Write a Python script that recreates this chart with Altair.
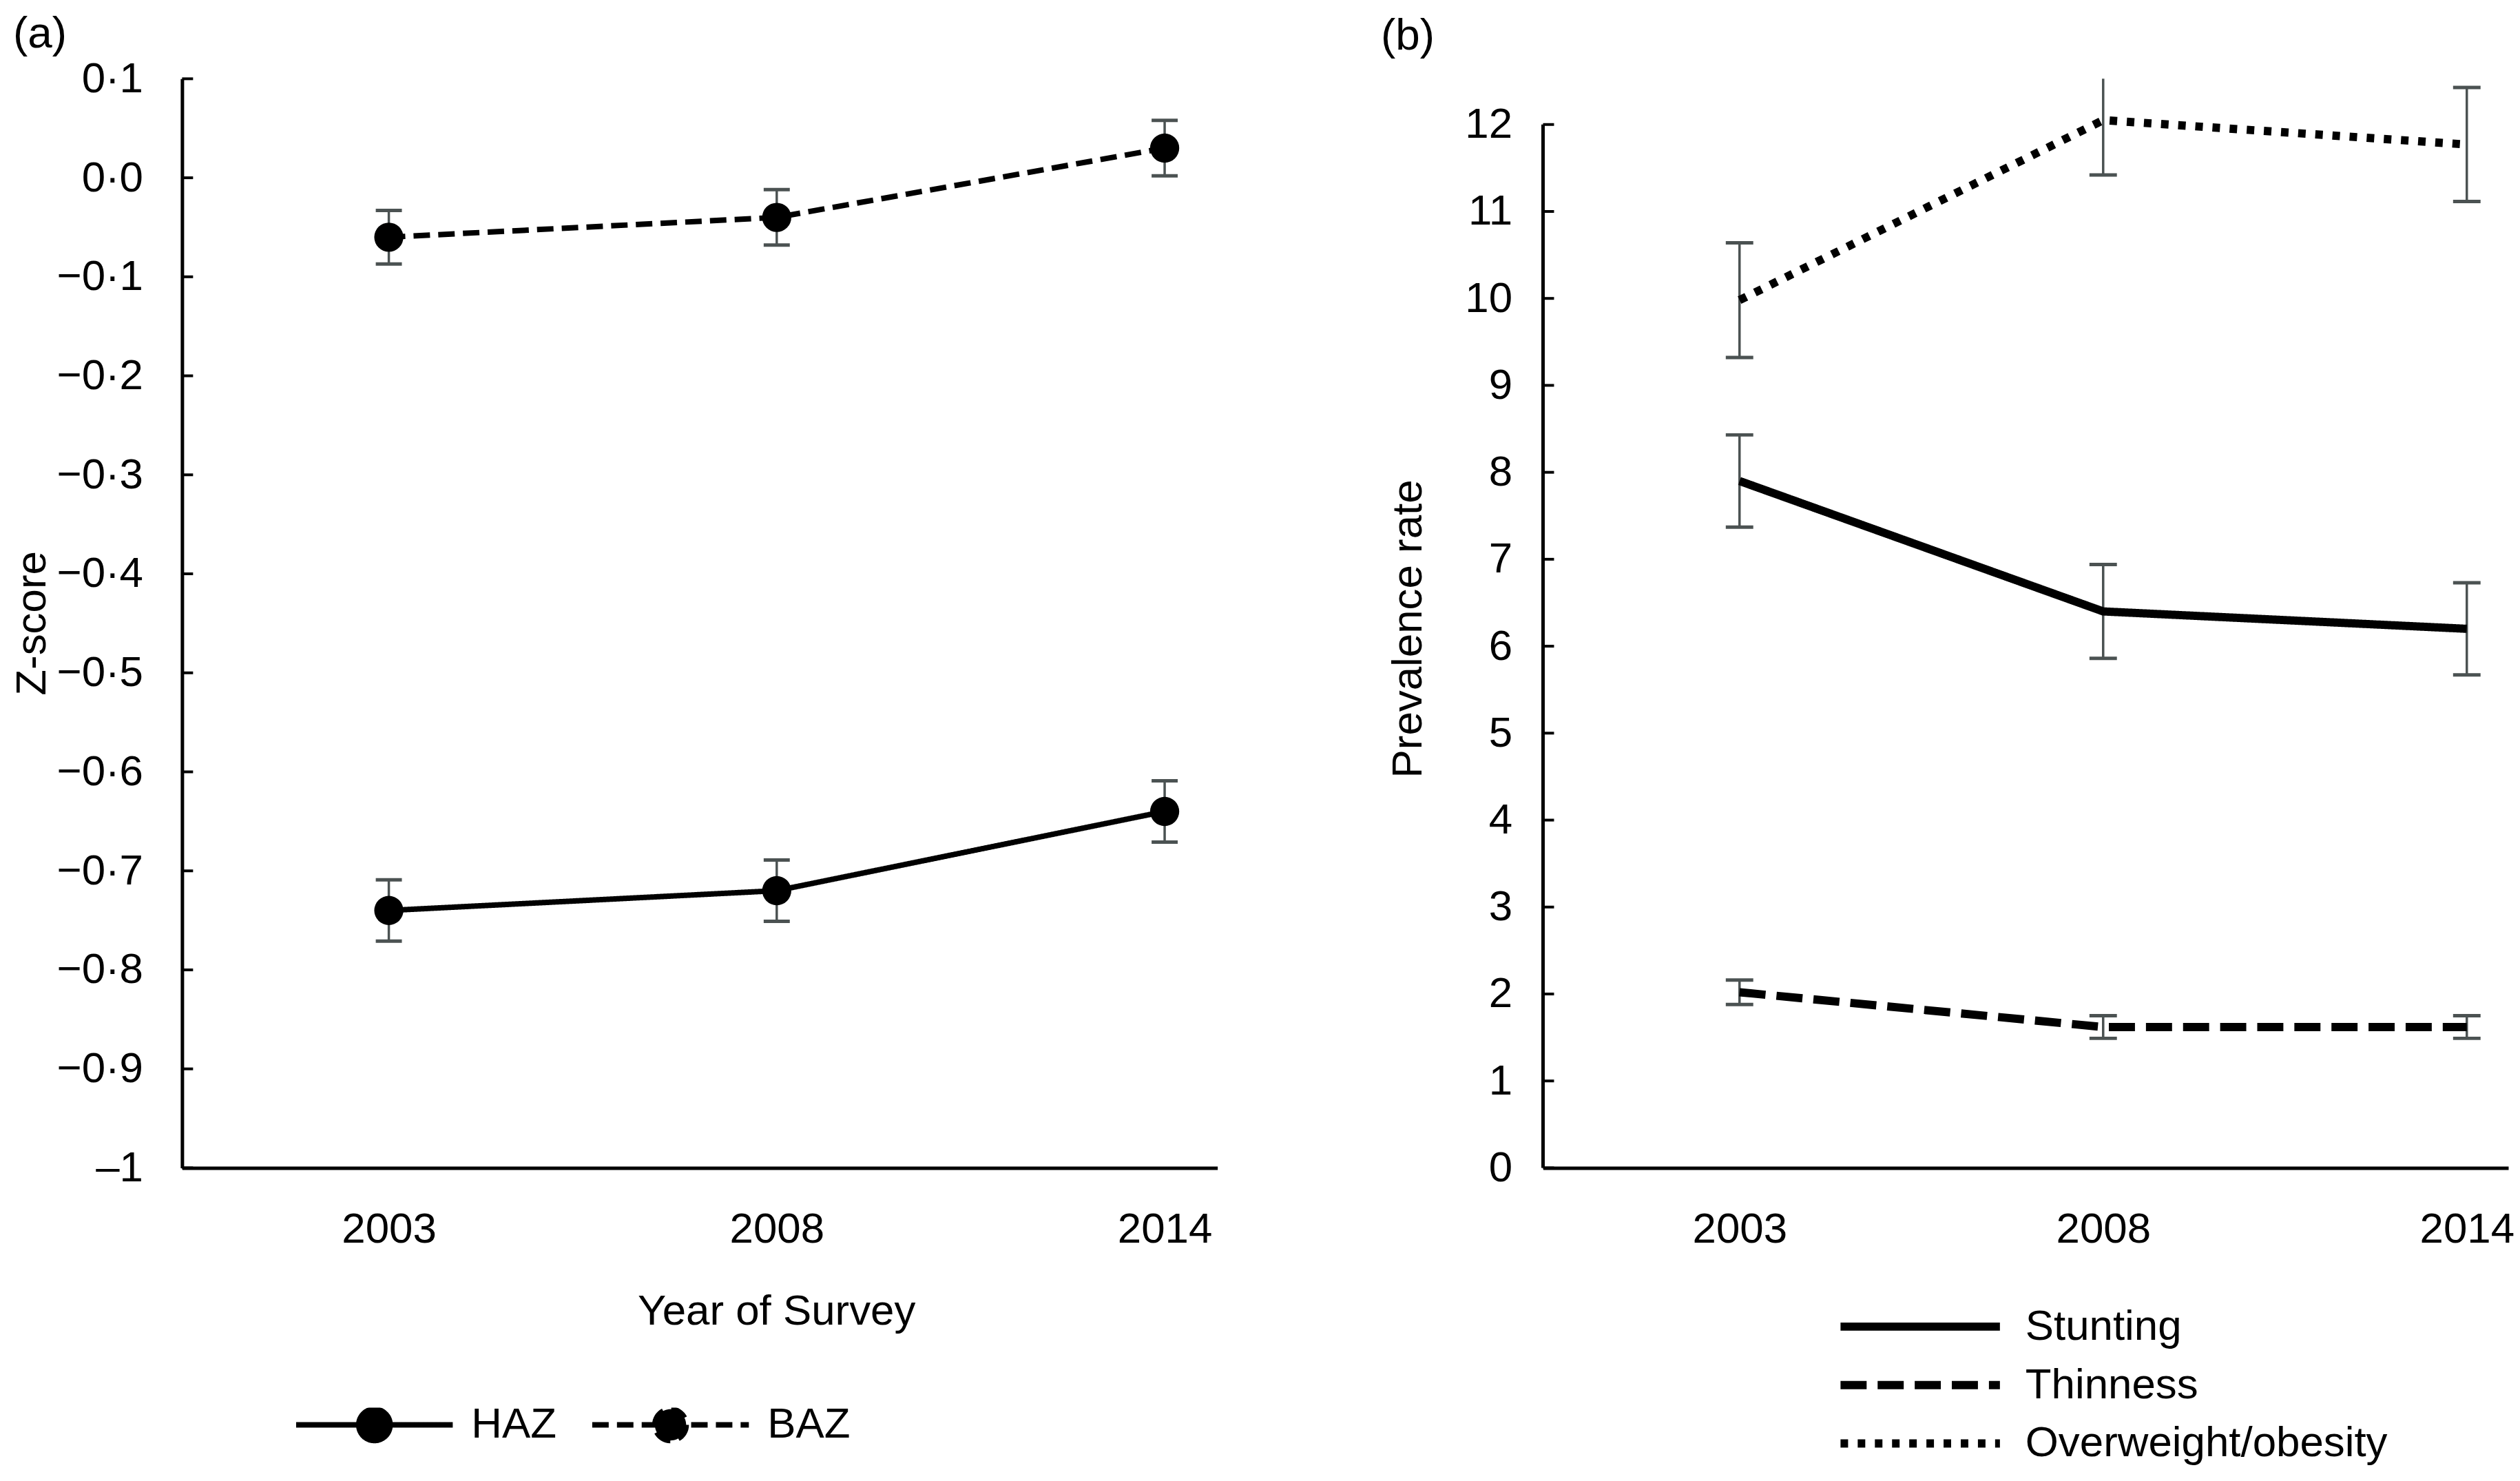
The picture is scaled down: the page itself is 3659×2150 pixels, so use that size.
import json
import altair as alt
import pandas as pd

# ---------------- data ----------------
years = ["2003", "2008", "2014"]

# panel (a): mean Z-scores with 95 % CI half-widths
z_series = ["HAZ", "BAZ"]
haz = [-0.74, -0.72, -0.64]
haz_err = [0.031, 0.031, 0.031]
baz = [-0.06, -0.04, 0.03]
baz_err = [0.027, 0.028, 0.028]
z_ticks = [0.1, 0.0, -0.1, -0.2, -0.3, -0.4, -0.5, -0.6, -0.7, -0.8, -0.9, -1.0]

# panel (b): prevalence rates with 95 % CI half-widths
p_series = ["Stunting", "Thinness", "Overweight/obesity"]
stunting = [7.9, 6.4, 6.2]
stunting_err = [0.53, 0.54, 0.53]
thinness = [2.02, 1.62, 1.62]
thinness_err = [0.14, 0.13, 0.13]
overweight = [9.98, 12.05, 11.77]
overweight_err = [0.66, 0.63, 0.655]
p_ticks = [0, 1, 2, 3, 4, 5, 6, 7, 8, 9, 10, 11, 12]


def frame(series_names, values, errors):
    rows = []
    for name, vals, errs in zip(series_names, values, errors):
        for i, (v, e) in enumerate(zip(vals, errs)):
            rows.append({"idx": i, "year": years[i], "series": name,
                         "value": v, "lo": v - e, "hi": v + e})
    return pd.DataFrame(rows)


df_a = frame(z_series, [haz, baz], [haz_err, baz_err])
df_b = frame(p_series, [stunting, thinness, overweight],
             [stunting_err, thinness_err, overweight_err])

caps_a = pd.concat([df_a.assign(cap=df_a["lo"]), df_a.assign(cap=df_a["hi"])])
caps_b = pd.concat([df_b.assign(cap=df_b["lo"]), df_b.assign(cap=df_b["hi"])])

ticks_a = pd.DataFrame({"v": z_ticks})
ticks_b = pd.DataFrame({"v": p_ticks})

# ---------------- style ----------------
FONT = "Liberation Sans"
FS = 62
ERR = "#4b5252"
year_expr = json.dumps(years) + "[datum.value]"

z_label_expr = (
    "datum.value == -1 ? '\u20131' : "
    "replace(replace(format(datum.value, '.1f'), '-', '\u2013'), '.', '\u00b7')"
)

HAZ_PATH = ("M-1,0L1,0M0.2,0A0.2,0.2,0,1,1,-0.2,0A0.2,0.2,0,1,1,0.2,0Z")


def x_enc(domain, title=None, title_x=None):
    kw = dict(values=[0, 1, 2], labelExpr=year_expr, labelFont=FONT,
              labelFontSize=FS, labelColor="black", labelPadding=59,
              labelFlush=False, labelOverlap=False, labelBound=False,
              ticks=False, tickSize=0, grid=False, domainColor="black",
              domainWidth=5)
    if title:
        kw.update(title=title, titleX=title_x, titleY=228, titleAlign="center",
                  titleBaseline="alphabetic", titleFont=FONT, titleFontSize=FS,
                  titleFontWeight="normal", titleColor="black")
    else:
        kw.update(title=None)
    return alt.X("idx:Q", scale=alt.Scale(domain=domain, nice=False, zero=False),
                 axis=alt.Axis(**kw))


# ---------------- panel (a) ----------------
W_A, H = 1507, 1585
xa = x_enc([-0.533, 2.136], "Year of Survey", 865)
ya_scale = alt.Scale(domain=[-1.0, 0.1], nice=False, zero=False)
ya = alt.Y("value:Q", scale=ya_scale, axis=alt.Axis(
    values=z_ticks, labelExpr=z_label_expr, labelFont=FONT, labelFontSize=FS,
    labelColor="black", labelPadding=57, ticks=False, tickSize=0, grid=False,
    domainColor="black", domainWidth=5, title="Z-score", titleX=-199,
    titleY=792, titleAngle=270, titleAlign="center", titleBaseline="alphabetic",
    titleFont=FONT, titleFontSize=FS, titleFontWeight="normal",
    titleColor="black"))

base_a = alt.Chart(df_a)
tick_a = alt.Chart(ticks_a).mark_rule(color="black", strokeWidth=4).encode(
    y=alt.Y("v:Q", scale=ya_scale), x=alt.value(0), x2=alt.value(16))
err_a = base_a.mark_rule(color=ERR, strokeWidth=3.5).encode(
    x=xa, y=alt.Y("lo:Q", scale=ya_scale), y2="hi:Q")
cap_a = alt.Chart(caps_a).mark_tick(orient="horizontal", size=38, thickness=5,
                                    color=ERR, opacity=1).encode(
    x=alt.X("idx:Q"), y=alt.Y("cap:Q", scale=ya_scale))
line_a = base_a.mark_line(color="black", strokeWidth=8).encode(
    x=xa, y=ya,
    strokeDash=alt.StrokeDash(
        "series:N",
        scale=alt.Scale(domain=z_series, range=[[1, 0], [24, 12]]),
        legend=alt.Legend(
            title=None, orient="none", direction="horizontal",
            legendX=162, legendY=1934, symbolType=HAZ_PATH,
            symbolSize=51984, symbolStrokeWidth=8, symbolFillColor="black",
            symbolStrokeColor="black", labelFont=FONT, labelFontSize=FS,
            labelColor="black", labelOffset=23, columnPadding=48,
            labelLimit=0, clipHeight=50, padding=0)))
pts_a = base_a.mark_point(filled=True, shape="circle", size=1800,
                          color="black", opacity=1).encode(
    x="idx:Q", y="value:Q", detail="series:N")

panel_a = alt.layer(tick_a, err_a, cap_a, line_a, pts_a).properties(
    width=W_A, height=H,
    title=alt.TitleParams("(a)", anchor="start", frame="group", dx=-246,
                          offset=-50, fontSize=64, fontWeight="normal",
                          font=FONT, color="black", baseline="alphabetic"))

# ---------------- panel (b) ----------------
W_B = 1405
xb = x_enc([-0.5403, 2.1141])
yb_scale = alt.Scale(domain=[0, 12.526], nice=False, zero=False)
yb = alt.Y("value:Q", scale=yb_scale, axis=alt.Axis(
    values=p_ticks, format="d", labelFont=FONT, labelFontSize=FS,
    labelColor="black", labelPadding=45, ticks=False, tickSize=0, grid=False,
    domain=False, title="Prevalence rate", titleX=-177, titleY=800,
    titleAngle=270, titleAlign="center", titleBaseline="alphabetic",
    titleFont=FONT, titleFontSize=FS, titleFontWeight="normal",
    titleColor="black"))

base_b = alt.Chart(df_b)
axis_b = alt.Chart(ticks_b).mark_rule(color="black", strokeWidth=5).encode(
    x=alt.value(0), y=alt.Y("min(v):Q", scale=yb_scale), y2="max(v):Q")
tick_b = alt.Chart(ticks_b).mark_rule(color="black", strokeWidth=4).encode(
    y=alt.Y("v:Q", scale=yb_scale), x=alt.value(0), x2=alt.value(16))
err_b = base_b.mark_rule(color=ERR, strokeWidth=3.5, clip=True).encode(
    x=xb, y=alt.Y("lo:Q", scale=yb_scale), y2="hi:Q")
cap_b = alt.Chart(caps_b).mark_tick(orient="horizontal", size=40, thickness=5,
                                    color=ERR, opacity=1, clip=True).encode(
    x=alt.X("idx:Q"), y=alt.Y("cap:Q", scale=yb_scale))
line_b = base_b.mark_line(color="black", strokeWidth=12).encode(
    x=xb, y=yb,
    strokeDash=alt.StrokeDash(
        "series:N",
        scale=alt.Scale(domain=p_series, range=[[1, 0], [38, 16], [11, 14]]),
        legend=alt.Legend(
            title=None, orient="none", direction="vertical",
            legendX=427, legendY=1786, symbolType="stroke",
            symbolSize=53824, symbolStrokeWidth=12,
            symbolStrokeColor="black", labelFont=FONT, labelFontSize=FS,
            labelColor="black", labelOffset=31, rowPadding=23,
            labelLimit=0, clipHeight=60, padding=0)))

panel_b = alt.layer(axis_b, tick_b, err_b, cap_b, line_b).properties(
    width=W_B, height=H,
    title=alt.TitleParams("(b)", anchor="start", frame="group", dx=-236,
                          offset=-22, fontSize=64, fontWeight="normal",
                          font=FONT, color="black", baseline="alphabetic"))

chart = (
    alt.hconcat(panel_a, panel_b, spacing=474, bounds="flush")
    .resolve_scale(x="independent", y="independent", strokeDash="independent")
    .resolve_legend(strokeDash="independent")
    .properties(padding={"left": 8, "top": 8, "right": 0, "bottom": 0},
                background="white")
    .configure(font=FONT)
    .configure_view(stroke=None)
)

chart.save("out.html", embed_options={"renderer": "svg", "actions": False})
